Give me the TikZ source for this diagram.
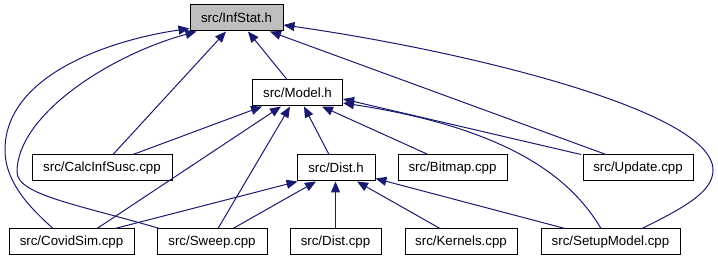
\documentclass[tikz,border=0pt]{standalone}
\usepackage{fontspec}
\setmainfont{Liberation Sans}
\usepackage{xcolor}
\usepackage{tikz}
\usetikzlibrary{arrows.meta}
\definecolor{edgeblue}{HTML}{191970}
\definecolor{rootgrey}{HTML}{BFBFBF}

\begin{document}
\begin{tikzpicture}[
  x=1pt, y=-1pt,
  box/.style={draw=black, line width=1pt, minimum height=26pt, inner sep=0pt,
              font=\fontsize{13.3}{16}\selectfont},
  arr/.style={-{Triangle[length=11pt, width=9pt]}, line width=1pt, color=edgeblue},
]
\useasboundingbox (0,0) rectangle (718,261);
% header files
\node[box, fill=rootgrey, minimum width=93pt] (infstat) at (236.5,18) {src/InfStat.h};
\node[box, minimum width=90pt] (model) at (297.5,93) {src/Model.h};
\node[box, minimum width=78pt] (disth) at (336,168) {src/Dist.h};
% sources, middle row
\node[box, minimum width=140pt] (calc) at (102,168) {src/CalcInfSusc.cpp};
\node[box, minimum width=109pt] (bitmap) at (452.5,168) {src/Bitmap.cpp};
\node[box, minimum width=110pt] (update) at (638,168) {src/Update.cpp};
% sources, bottom row
\node[box, minimum width=125pt] (covidsim) at (71.5,242) {src/CovidSim.cpp};
\node[box, minimum width=110pt] (sweep) at (212,242) {src/Sweep.cpp};
\node[box, minimum width=91pt] (distcpp) at (335.5,242) {src/Dist.cpp};
\node[box, minimum width=112pt] (kernels) at (461,242) {src/Kernels.cpp};
\node[box, minimum width=139pt] (setup) at (610.5,242) {src/SetupModel.cpp};

% includes of InfStat.h
\draw[arr] ([xshift=-18.5pt]covidsim.north) .. controls (35,212) and (5,185) .. (5,150)
  .. controls (5,75) and (110,40) .. ([yshift=3pt]infstat.south west);
\draw[arr] ([xshift=3pt]sweep.north west) .. controls (80,205) and (17,195) .. (17,172)
  .. controls (17,115) and (110,55) .. ([xshift=7pt]infstat.south west);
\draw[arr] ([xshift=11pt]calc.north) -- ([xshift=-10.5pt]infstat.south);
\draw[arr] ([xshift=-10.5pt]model.north) -- ([xshift=11.5pt]infstat.south);
\draw[arr] ([xshift=-32pt]update.north) -- ([xshift=33.5pt]infstat.south);
\draw[arr] ([xshift=31.5pt]setup.north) .. controls (690,205) and (713,190) .. (713,170)
  .. controls (713,110) and (460,50) .. ([yshift=-7pt]infstat.east);

% includes of Model.h
\draw[arr] ([xshift=31pt]calc.north) -- ([xshift=-35.5pt]model.south);
\draw[arr] ([xshift=25.5pt]covidsim.north) -- ([xshift=-16.5pt]model.south);
\draw[arr] ([xshift=6pt]sweep.north) -- ([xshift=-7.5pt]model.south);
\draw[arr] ([xshift=-7pt]disth.north) -- ([xshift=6.5pt]model.south);
\draw[arr] ([xshift=-24.5pt]bitmap.north) -- ([xshift=24.5pt]model.south);
\draw[arr] ([xshift=-57pt]update.north) -- ([yshift=-6pt]model.east);
\draw[arr] ([xshift=-9.5pt]setup.north) .. controls (575,185) and (520,130) .. ([yshift=-10pt]model.east);

% includes of Dist.h
\draw[arr] ([xshift=43.5pt]covidsim.north) -- ([xshift=1pt]disth.south west);
\draw[arr] ([xshift=21pt]sweep.north) -- ([xshift=-20pt]disth.south);
\draw[arr] (distcpp.north) -- (distcpp.north |- disth.south);
\draw[arr] ([xshift=-21pt]kernels.north) -- ([xshift=21pt]disth.south);
\draw[arr] ([xshift=-45.5pt]setup.north) -- ([yshift=3pt]disth.south east);
\end{tikzpicture}
\end{document}
